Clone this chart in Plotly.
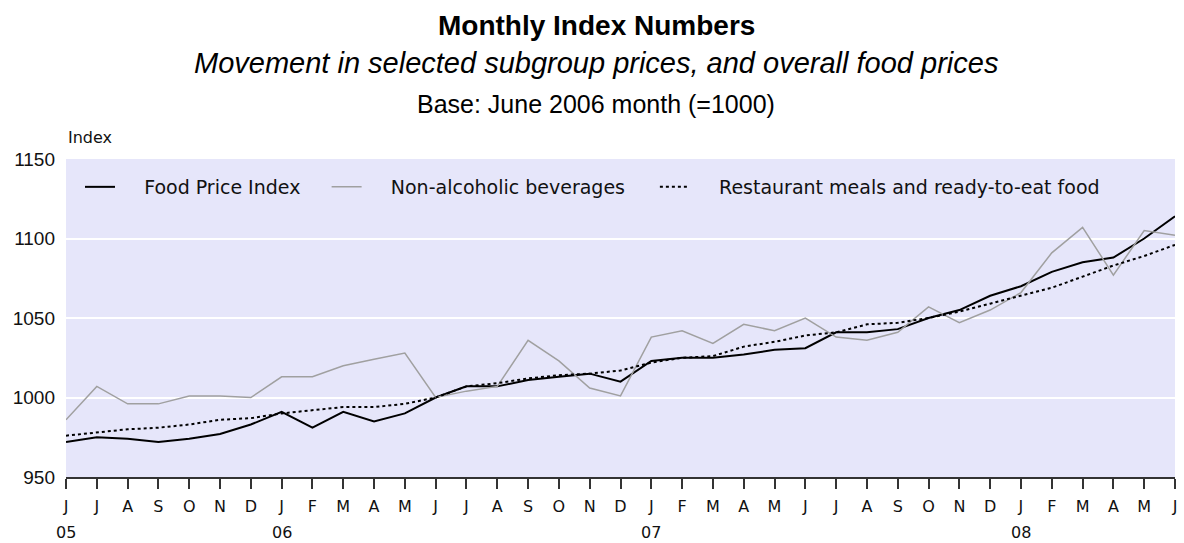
import plotly.graph_objects as go

# June 2005 .. June 2008, one value per month
months = ["J", "J", "A", "S", "O", "N", "D",
          "J", "F", "M", "A", "M", "J", "J", "A", "S", "O", "N", "D",
          "J", "F", "M", "A", "M", "J", "J", "A", "S", "O", "N", "D",
          "J", "F", "M", "A", "M", "J"]
years = ["05", "06", "07", "08"]
year_pos = [0, 7, 19, 31]

food_price_index = [972, 975, 974, 972, 974, 977, 983, 991, 981, 991, 985, 990, 1000,
                    1007, 1007, 1011, 1013, 1015, 1010, 1023, 1025, 1025, 1027, 1030, 1031,
                    1041, 1041, 1043, 1050, 1055, 1064, 1070, 1079, 1085, 1088, 1100, 1114]
non_alcoholic = [986, 1007, 996, 996, 1001, 1001, 1000, 1013, 1013, 1020, 1024, 1028, 1000,
                 1004, 1007, 1036, 1023, 1006, 1001, 1038, 1042, 1034, 1046, 1042, 1050,
                 1038, 1036, 1041, 1057, 1047, 1055, 1066, 1091, 1107, 1077, 1105, 1102]
restaurant = [976, 978, 980, 981, 983, 986, 987, 990, 992, 994, 994, 996, 1000,
              1007, 1009, 1012, 1014, 1015, 1017, 1022, 1025, 1026, 1032, 1035, 1039,
              1041, 1046, 1047, 1050, 1054, 1059, 1064, 1069, 1076, 1083, 1089, 1096]

xs = list(range(len(months)))
BG = "#E6E6FA"
TXT = "DejaVu Sans"
HEAD = "Liberation Sans"

# plot area spans y=159..477 px on the page
def py(px):
    return (477 - px) / 318

fig = go.Figure()
fig.add_trace(go.Scatter(x=xs, y=food_price_index, mode="lines", name="    Food Price Index",
                         line=dict(color="black", width=2), legend="legend"))
fig.add_trace(go.Scatter(x=xs, y=non_alcoholic, mode="lines", name="    Non-alcoholic beverages",
                         line=dict(color="#A0A0A0", width=1.5), legend="legend2"))
fig.add_trace(go.Scatter(x=xs, y=restaurant, mode="lines",
                         name="    Restaurant meals and ready-to-eat food",
                         line=dict(color="black", width=2, dash="3px,3px"), legend="legend3"))

leg = dict(orientation="h", yanchor="middle", y=py(187), bgcolor="rgba(0,0,0,0)",
           font=dict(family=TXT, size=19, color="#111"))
fig.update_layout(
    width=1184, height=543,
    margin=dict(l=66, r=7, t=159, b=66),
    paper_bgcolor="white", plot_bgcolor=BG,
    showlegend=True,
    legend=dict(leg, x=0.0126),
    legend2=dict(leg, x=0.235),
    legend3=dict(leg, x=0.531),
    xaxis=dict(range=[0, 36], tickvals=xs, ticktext=months, showgrid=False,
               ticks="outside", ticklen=10, tickcolor="#333", tickwidth=1.5,
               showline=True, linecolor="#333", linewidth=1.5, ticklabelstandoff=4,
               ticklabeloverflow="allow",
               tickfont=dict(family=TXT, size=16, color="#111"), zeroline=False),
    yaxis=dict(range=[950, 1150], dtick=50, showgrid=True, gridcolor="white", gridwidth=2,
               showline=False, zeroline=False, ticks="", ticklabelstandoff=10,
               tickfont=dict(family=HEAD, size=19, color="#111")),
)

cx = 0.478
fig.add_annotation(text="<b>Monthly Index Numbers</b>", xref="paper", yref="paper",
                   x=cx, y=py(25), showarrow=False, yanchor="middle",
                   font=dict(family=HEAD, size=28, color="black"))
fig.add_annotation(text="<i>Movement in selected subgroup prices, and overall food prices</i>",
                   xref="paper", yref="paper", x=cx, y=py(63), showarrow=False,
                   yanchor="middle", font=dict(family=HEAD, size=29, color="black"))
fig.add_annotation(text="Base: June 2006 month (=1000)", xref="paper", yref="paper",
                   x=cx, y=py(104), showarrow=False, yanchor="middle",
                   font=dict(family=HEAD, size=25, color="black"))
fig.add_annotation(text="Index", xref="paper", yref="paper", x=0.0, xanchor="left",
                   y=py(138), yanchor="middle", showarrow=False,
                   font=dict(family=TXT, size=16, color="#111"))
for yr, pos in zip(years, year_pos):
    fig.add_annotation(text=yr, x=pos, xref="x", yref="paper", y=0, yshift=-55,
                       yanchor="middle", showarrow=False,
                       font=dict(family=TXT, size=16, color="#111"))

fig.write_html("out.html", config={"displayModeBar": False},
               post_script="document.body.style.margin='0';document.body.style.overflow='hidden';")
